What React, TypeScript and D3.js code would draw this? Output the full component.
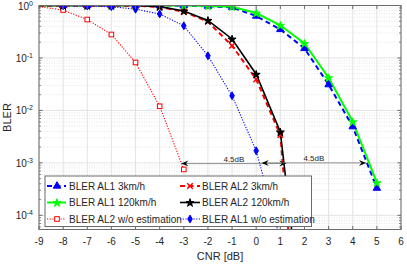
import React from "react";
import * as d3 from "d3";

const cnr = [-9, -8, -7, -6, -5, -4, -3, -2, -1, 0, 1, 2, 3, 4, 5];
const al1_3kmh = [1, 1, 1, 1, 1, 1, 0.99, 0.97, 0.92, 0.63, 0.35, 0.152, 0.031, 0.0049, 0.00033];
const al1_120kmh = [1, 1, 1, 1, 1, 1, 0.995, 0.98, 0.95, 0.72, 0.42, 0.19, 0.042, 0.0061, 0.00042];
const cnrAl2 = [-9, -8, -7, -6, -5, -4, -3, -2, -1, 0, 1, 2];
const al2_3kmh = [1, 1, 1, 1, 0.99, 0.94, 0.76, 0.49, 0.171, 0.039, 0.0034, 1e-8];
const al2_120kmh = [1, 1, 1, 1, 1, 0.95, 0.785, 0.52, 0.23, 0.049, 0.0039, 4e-7];
const cnrAl2NoEst = [-9, -8, -7, -6, -5, -4, -3];
const al2_noEst = [0.95, 0.82, 0.54, 0.28, 0.082, 0.012, 0.00075];
const cnrAl1NoEst = [-9, -8, -7, -6, -5, -4, -3, -2, -1, 0, 1];
const al1_noEst = [1, 0.99, 0.98, 0.95, 0.85, 0.69, 0.41, 0.11, 0.019, 0.0017, 3.4e-5];

const xTicks = [-9, -8, -7, -6, -5, -4, -3, -2, -1, 0, 1, 2, 3, 4, 5, 6];
const yDecades = [0, -1, -2, -3, -4];
const arrows = [
  { from: -3.1, to: 1.25, y: 0.00097, label: "4.5dB" },
  { from: 0.23, to: 4.55, y: 0.001, label: "4.5dB" },
];

type Marker = "tri" | "star" | "x" | "square" | "diamond";
interface Series {
  name: string;
  xs: number[];
  ys: number[];
  color: string;
  dash: string;
  width: number;
  marker: Marker;
  mfill: string;
}

const series: Series[] = [
  { name: "BLER AL1 3km/h", xs: cnr, ys: al1_3kmh, color: "#0000ff", dash: "5,3.5", width: 2, marker: "tri", mfill: "#0000ff" },
  { name: "BLER AL1 120km/h", xs: cnr, ys: al1_120kmh, color: "#00ff00", dash: "", width: 2, marker: "star", mfill: "#00ff00" },
  { name: "BLER AL2 w/o estimation", xs: cnrAl2NoEst, ys: al2_noEst, color: "#ff0000", dash: "1.2,1.5", width: 1.1, marker: "square", mfill: "#ffffff" },
  { name: "BLER AL2 3km/h", xs: cnrAl2, ys: al2_3kmh, color: "#ff0000", dash: "5,3.5", width: 2, marker: "x", mfill: "none" },
  { name: "BLER AL2 120km/h", xs: cnrAl2, ys: al2_120kmh, color: "#000000", dash: "", width: 1.6, marker: "star", mfill: "#000000" },
  { name: "BLER AL1 w/o estimation", xs: cnrAl1NoEst, ys: al1_noEst, color: "#0000ff", dash: "1.2,1.5", width: 1.1, marker: "diamond", mfill: "#0000ff" },
];

const L = 39, R = 401, T = 5.5, B = 229.5;
const x = d3.scaleLinear().domain([-9, 6]).range([L, R]);
const y = d3.scaleLog().domain([Math.pow(10, -4.27), 1]).range([B, T]);

function MarkerShape({ m, cx, cy, color, fill }: { m: Marker; cx: number; cy: number; color: string; fill: string }) {
  if (m === "tri") {
    const p = d3.symbol().type(d3.symbolTriangle).size(24)();
    return <path d={p || ""} transform={`translate(${cx},${cy})`} fill={fill} stroke={color} strokeWidth={1} />;
  }
  if (m === "star") {
    const p = d3.symbol().type(d3.symbolStar).size(20)();
    return <path d={p || ""} transform={`translate(${cx},${cy + 0.4})`} fill={fill} stroke={color} strokeWidth={1} />;
  }
  if (m === "x") {
    const s = 2.8;
    return (
      <path d={`M${cx - s},${cy - s}L${cx + s},${cy + s}M${cx - s},${cy + s}L${cx + s},${cy - s}`} stroke={color} strokeWidth={1.5} fill="none" />
    );
  }
  if (m === "square") {
    return <rect x={cx - 2.3} y={cy - 2.3} width={4.6} height={4.6} fill={fill} stroke={color} strokeWidth={1} />;
  }
  const p = d3.symbol().type(d3.symbolDiamond).size(18)();
  return <path d={p || ""} transform={`translate(${cx},${cy})`} fill={fill} stroke={color} strokeWidth={1} />;
}

function ArrowHead({ px, py, dir }: { px: number; py: number; dir: number }) {
  const len = 7, w = 3, notch = 4.5;
  const d = `M${px},${py}L${px + dir * len},${py - w}L${px + dir * notch},${py}L${px + dir * len},${py + w}Z`;
  return <path d={d} fill="#000" />;
}

export default function App() {
  const line = d3
    .line<[number, number]>()
    .x((d) => x(d[0]))
    .y((d) => y(d[1]));
  const minor: number[] = [];
  for (let e = -5; e <= 0; e++) for (let k = 2; k <= 9; k++) {
    const v = k * Math.pow(10, e);
    if (v > y.domain()[0] && v < 1) minor.push(v);
  }
  const font = "'Liberation Sans', Arial, Helvetica, sans-serif";
  const axisColor = "#6b6b6b";
  const textColor = "#262626";
  const legendCols = [
    { lx0: 47, lx1: 66, mx: 57, tx: 69 },
    { lx0: 180, lx1: 200, mx: 190, tx: 202 },
  ];
  const rowsY = [186, 202.5, 219];
  return (
    <svg width={407} height={264} style={{ position: "absolute", left: 0, top: 0, fontFamily: font }}>
      <rect x={0} y={0} width={407} height={264} fill="#fff" />
      <defs>
        <clipPath id="plotclip">
          <rect x={L} y={T} width={R - L} height={B - T} />
        </clipPath>
      </defs>
      {/* grid */}
      {minor.map((v, i) => (
        <line key={"mg" + i} x1={L} x2={R} y1={y(v)} y2={y(v)} stroke="#d4d4d4" strokeWidth={0.6} strokeDasharray="1,1.5" />
      ))}
      {xTicks.map((t) => (
        <line key={"xg" + t} x1={x(t)} x2={x(t)} y1={T} y2={B} stroke="#e3e3e3" strokeWidth={1} />
      ))}
      {yDecades.map((e) => (
        <line key={"yg" + e} x1={L} x2={R} y1={y(Math.pow(10, e))} y2={y(Math.pow(10, e))} stroke="#e3e3e3" strokeWidth={1} />
      ))}
      {/* series */}
      <g clipPath="url(#plotclip)">
        {series.map((s, i) => (
          <path
            key={"s" + i}
            d={line(s.xs.map((v, j) => [v, s.ys[j]] as [number, number])) || ""}
            fill="none"
            stroke={s.color}
            strokeWidth={s.width}
            strokeDasharray={s.dash || undefined}
          />
        ))}
        {series.map((s, i) =>
          s.xs.map((v, j) =>
            v > -9 ? (
              <MarkerShape key={"m" + i + "_" + j} m={s.marker} cx={x(v)} cy={y(s.ys[j])} color={s.color} fill={s.mfill} />
            ) : null
          )
        )}
      </g>
      {/* annotations */}
      {arrows.map((a, i) => {
        const yy = y(a.y);
        return (
          <g key={"a" + i}>
            <line x1={x(a.from)} x2={x(a.to)} y1={yy} y2={yy} stroke="#777" strokeWidth={0.8} />
            <ArrowHead px={x(a.from)} py={yy} dir={1} />
            <ArrowHead px={x(a.to)} py={yy} dir={-1} />
            <text x={(x(a.from) + x(a.to)) / 2} y={yy - 2} textAnchor="middle" fontSize={8} fill={textColor}>
              {a.label}
            </text>
          </g>
        );
      })}
      {/* axes box */}
      <rect x={L} y={T} width={R - L} height={B - T} fill="none" stroke={axisColor} strokeWidth={1} />
      {xTicks.map((t) => (
        <g key={"xt" + t}>
          <line x1={x(t)} x2={x(t)} y1={B} y2={B - 3.5} stroke={axisColor} />
          <line x1={x(t)} x2={x(t)} y1={T} y2={T + 3.5} stroke={axisColor} />
          <text x={x(t)} y={245} textAnchor="middle" fontSize={10} fill={textColor}>
            {t}
          </text>
        </g>
      ))}
      {yDecades.map((e) => {
        const yy = y(Math.pow(10, e));
        return (
          <g key={"yt" + e}>
            <line x1={L} x2={L + 3.5} y1={yy} y2={yy} stroke={axisColor} />
            <line x1={R} x2={R - 3.5} y1={yy} y2={yy} stroke={axisColor} />
            <text x={33} y={yy + 4} textAnchor="end" fontSize={10} fill={textColor}>
              10
              <tspan dy={-4} fontSize={7}>
                {String(e)}
              </tspan>
            </text>
          </g>
        );
      })}
      {minor.map((v, i) => (
        <g key={"mt" + i}>
          <line x1={L} x2={L + 2} y1={y(v)} y2={y(v)} stroke={axisColor} strokeWidth={0.8} />
          <line x1={R} x2={R - 2} y1={y(v)} y2={y(v)} stroke={axisColor} strokeWidth={0.8} />
        </g>
      ))}
      {/* axis labels */}
      <text x={(L + R) / 2} y={260} textAnchor="middle" fontSize={11} fill={textColor}>
        CNR [dB]
      </text>
      <text transform={`translate(11,${(T + B) / 2}) rotate(-90)`} textAnchor="middle" fontSize={11} fill={textColor}>
        BLER
      </text>
      {/* legend */}
      <rect x={45} y={176} width={266.5} height={50.5} fill="#fff" stroke={axisColor} strokeWidth={1} />
      {series.map((s, i) => {
        const col = legendCols[Math.floor(i / 3)];
        const ry = rowsY[i % 3];
        return (
          <g key={"lg" + i}>
            <line x1={col.lx0} x2={col.lx1} y1={ry} y2={ry} stroke={s.color} strokeWidth={s.width} strokeDasharray={s.dash || undefined} />
            <MarkerShape m={s.marker} cx={col.mx} cy={ry} color={s.color} fill={s.mfill} />
            <text x={col.tx} y={ry + 3.5} fontSize={10} fill={textColor}>
              {s.name}
            </text>
          </g>
        );
      })}
    </svg>
  );
}
